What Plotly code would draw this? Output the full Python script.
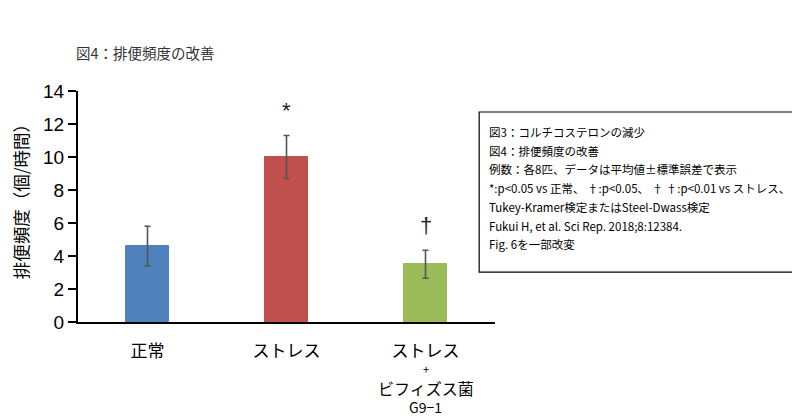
import plotly.graph_objects as go

# データ
groups = ["正常", "ストレス", "ストレス+ビフィズス菌G9-1"]
tick_labels = ["正常", "ストレス", "ストレス"]
extra_lines = ["+", "ビフィズス菌", "G9−1"]   # 3本目のラベルの続き
extra_sizes = [11, 16, 14]
means = [4.6, 10.0, 3.5]
sems = [1.2, 1.3, 0.85]
colors = ["#4F81BD", "#C0504D", "#9BBB59"]
sig_marks = ["", "*", "†"]
y_ticks = [0, 2, 4, 6, 8, 10, 12, 14]

note_lines = [
    "図3：コルチコステロンの減少",
    "図4：排便頻度の改善",
    "例数：各8匹、データは平均値±標準誤差で表示",
    "*:p<0.05 vs 正常、 †:p<0.05、 † †:p<0.01 vs ストレス、",
    "Tukey-Kramer検定またはSteel-Dwass検定",
    "Fukui H, et al. Sci Rep. 2018;8:12384.",
    "Fig. 6を一部改変",
]

FONT = "Liberation Sans, Arial, Noto Sans CJK JP"
JP = "Noto Sans CJK JP"

fig = go.Figure()
fig.add_trace(go.Bar(
    x=[0, 1, 2], y=means,
    width=0.31,
    marker=dict(color=colors, line=dict(color=colors, width=1)),
    error_y=dict(type="data", array=sems, visible=True,
                 color="#555555", thickness=1.6, width=3),
    showlegend=False,
))

# 有意差マーク
for i, m in enumerate(sig_marks):
    if not m:
        continue
    fig.add_annotation(x=i, y=means[i] + sems[i] + 1.5, text=m, showarrow=False,
                       font=dict(family=FONT, size=22, color="#222222"))

# 3本目のラベル (2行目以降)
for k, (t, s) in enumerate(zip(extra_lines, extra_sizes)):
    fig.add_annotation(x=2, xref="x", yref="paper", y=0, yshift=-47 - 18.8 * k,
                       yanchor="middle", text=t, showarrow=False,
                       font=dict(family=JP, size=s, color="black"))

# ページの余白(8px)分だけ左上に寄せる
fig.update_layout(
    width=800, height=418,
    paper_bgcolor="white", plot_bgcolor="white",
    margin=dict(l=70, r=313, t=83, b=104),
    font=dict(family=FONT, color="black"),
    bargap=0,
)
fig.update_yaxes(
    range=[0, 14], tickvals=y_ticks, showgrid=False, zeroline=False,
    showline=True, linecolor="black", linewidth=2,
    ticks="outside", ticklen=8, tickwidth=2, tickcolor="black",
    tickfont=dict(family=FONT, size=19), automargin=False,
)
fig.update_xaxes(
    range=[-0.5, 2.5], tickvals=[0, 1, 2], ticktext=tick_labels,
    showgrid=False, zeroline=False, automargin=False,
    showline=True, linecolor="black", linewidth=2, ticks="",
    tickfont=dict(family=JP, size=17, color="black"),
    ticklabelstandoff=13,
)

# 縦軸タイトル
fig.add_annotation(xref="paper", yref="paper", x=0, y=0.54, xshift=-58,
                   xanchor="center", yanchor="middle",
                   textangle=-90, showarrow=False,
                   text="排便頻度（個/時間）",
                   font=dict(family=JP, size=17.5, color="black"))

# タイトル
fig.add_annotation(xref="paper", yref="paper", x=0, y=1, xshift=-4, yshift=39,
                   xanchor="left", yanchor="middle", showarrow=False,
                   text="図4：排便頻度の改善",
                   font=dict(family=JP, size=14.5, color="#333333"))

# 注記ボックス
fig.add_shape(type="rect", xref="paper", yref="paper",
              x0=0.962, x1=1.719, y0=0.216, y1=0.909,
              line=dict(color="black", width=1.2))
for k, line in enumerate(note_lines):
    fig.add_annotation(
        xref="paper", yref="paper", x=0.981, y=0.909, yshift=-20 - 18.7 * k,
        xanchor="left", yanchor="middle", showarrow=False,
        text=line, font=dict(family=JP, size=11.5, color="black"),
    )

fig.write_html("out.html")
